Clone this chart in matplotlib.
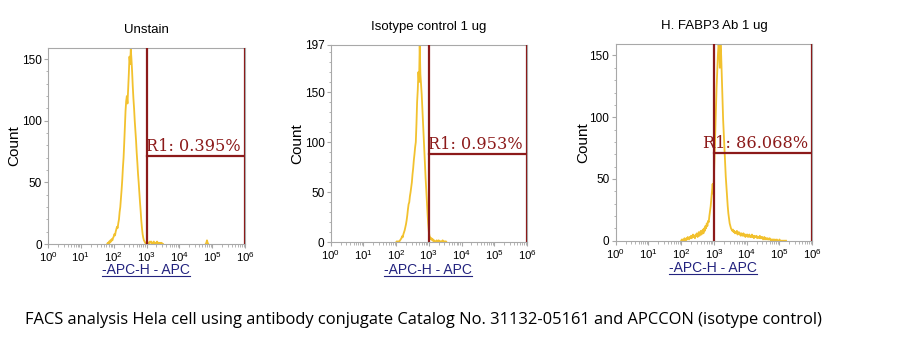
import numpy as np
import matplotlib
matplotlib.use("Agg")
import matplotlib.pyplot as plt
from matplotlib.ticker import FixedLocator, LogLocator, NullFormatter, MultipleLocator
from matplotlib.lines import Line2D

plt.rcParams.update({
    "font.family": ["Liberation Sans", "DejaVu Sans"],
    "mathtext.default": "regular",
})

# panel titles, gate labels and y limits
titles = ["Unstain", "Isotype control 1 ug", "H. FABP3 Ab 1 ug"]
gate_labels = ["R1: 0.395%", "R1: 0.953%", "R1: 86.068%"]
gate_levels = [71, 88, 71]
y_max = [159, 197, 159]
y_ticks = [[0, 50, 100, 150], [0, 50, 100, 150, 197], [0, 50, 100, 150]]
gate_lo, gate_hi = 1e3, 1e6

# histogram channels: start (log10 of APC-H), step, counts
unstain_start = 1.80
unstain_counts = [0, 1, 0, 2, 1, 3, 2, 4, 3, 5, 6, 8, 7, 10, 12, 14, 13, 17, 20, 26,
                  30, 37, 44, 52, 62, 70, 82, 95, 108, 116, 120, 114, 126, 138, 152, 146,
                  158, 150, 140, 128, 118, 110, 100, 92, 84, 74, 66, 57, 50, 42, 34, 27,
                  19, 13, 8, 5, 3, 2, 1, 0, 1, 2, 1, 0, 1, 2, 1, 2, 1, 0, 1, 2, 1, 0,
                  1, 1, 2, 0, 1, 1, 0, 1, 0, 1, 0, 0]
unstain_stray_x = [4.80, 4.82, 4.84, 4.86, 4.88]
unstain_stray = [0, 1, 3, 1, 0]

isotype_start = 2.00
isotype_counts = [0, 1, 0, 1, 0, 1, 2, 3, 4, 6, 5, 8, 10, 12, 15, 18, 22, 27, 33, 38,
                  40, 46, 50, 55, 60, 68, 74, 82, 88, 95, 100, 118, 140, 152, 170, 160,
                  197, 168, 158, 148, 134, 120, 106, 92, 78, 64, 52, 40, 28, 18, 10, 6,
                  5, 3, 4, 2, 3, 1, 2, 1, 0, 1, 2, 1, 1, 2, 0, 1, 1, 0, 1, 2, 1, 0,
                  1, 0, 1, 0]

fabp3_start = 2.00
fabp3_counts = [0, 1, 0, 1, 0, 2, 1, 0, 2, 1, 3, 2, 1, 3, 2, 4, 2, 3, 5, 3,
                4, 2, 5, 4, 6, 3, 5, 7, 4, 6, 8, 5, 7, 9, 6, 10, 8, 12, 10, 14,
                12, 16, 15, 20, 24, 28, 34, 40, 46, 38, 52, 70, 88, 106, 124, 138, 150, 159,
                156, 140, 159, 150, 132, 112, 98, 86, 74, 62, 52, 44, 36, 28, 22, 18,
                14, 12, 10, 9, 8, 9, 7, 8, 6, 7, 6, 8, 5, 6, 7, 5, 6, 4, 6, 5,
                4, 6, 4, 5, 3, 5, 4, 5, 3, 4, 5, 3, 4, 3, 5, 3, 4, 2, 4, 3,
                3, 4, 2, 3, 3, 2, 4, 2, 3, 2, 3, 1, 2, 3, 1, 2, 2, 1, 2, 1,
                1, 2, 1, 0, 1, 1, 0, 1, 0, 1, 0, 0, 1, 0, 0, 0, 1, 0, 0, 0,
                0, 0, 0, 0, 0, 0, 0]
step = 0.02

series = [(unstain_start, unstain_counts), (isotype_start, isotype_counts),
          (fabp3_start, fabp3_counts)]

# axes boxes in figure fraction [left, bottom, width, height]
boxes = [[0.0535, 0.3048, 0.2194, 0.5584],
         [0.3683, 0.3097, 0.2186, 0.5621],
         [0.6856, 0.3142, 0.2189, 0.5595]]
ylab_x = [-0.137, -0.134, -0.129]
xlab_y = [-0.155, -0.163, -0.161]

hist_color = "#F2C12E"
gate_color = "#8C1A1A"
spine_color = "#A8A8A8"
link_color = "#23237F"

fig = plt.figure(figsize=(8.98, 3.51), dpi=100)
xlabels = []
for i in range(3):
    ax = fig.add_axes(boxes[i])
    start, counts = series[i]
    logx = start + step * np.arange(len(counts))
    ax.plot(10 ** logx, counts, color=hist_color, lw=1.3, zorder=2)
    if i == 0:
        ax.plot(10 ** np.array(unstain_stray_x), unstain_stray, color=hist_color, lw=1.3)

    ax.set_xscale("log")
    ax.set_xlim(1, 1e6)
    ax.set_ylim(0, y_max[i])

    # gate R1
    ax.axvline(gate_lo, color=gate_color, lw=1.6, zorder=3)
    ax.axvline(gate_hi, color=gate_color, lw=1.6, zorder=3)
    ax.plot([gate_lo, gate_hi], [gate_levels[i]] * 2, color=gate_color, lw=1.6, zorder=3)
    ax.annotate(gate_labels[i], (gate_hi, gate_levels[i]), xytext=(-3, 1),
                textcoords="offset points", ha="right", va="bottom",
                family="DejaVu Serif", fontsize=11.6, color=gate_color, zorder=4)

    for s in ax.spines.values():
        s.set_color(spine_color)
        s.set_linewidth(0.8)

    ax.xaxis.set_major_locator(FixedLocator([10.0 ** k for k in range(7)]))
    ax.set_xticklabels([r"$10^{%d}$" % k for k in range(7)])
    ax.xaxis.set_minor_locator(LogLocator(base=10, subs=np.arange(2, 10), numticks=20))
    ax.xaxis.set_minor_formatter(NullFormatter())
    ax.yaxis.set_major_locator(FixedLocator(y_ticks[i]))
    ax.yaxis.set_minor_locator(MultipleLocator(10))
    ax.tick_params(which="major", direction="out", length=3, width=0.8,
                   color=spine_color, labelsize=8.5, pad=1.5)
    ax.tick_params(axis="x", which="major", labelsize=8.2, pad=1.5)
    ax.tick_params(which="minor", direction="out", length=1.8, width=0.6,
                   color=spine_color)

    ax.set_title(titles[i], fontsize=9.5, pad=11)
    ax.set_ylabel("Count", fontsize=11)
    ax.yaxis.set_label_coords(ylab_x[i], 0.5)
    t = ax.text(0.495, xlab_y[i], "-APC-H - APC", transform=ax.transAxes,
                ha="center", va="baseline", fontsize=10, color=link_color)
    xlabels.append(t)

fig.text(25 / 898, 1 - 320 / 351, "FACS analysis Hela cell using antibody conjugate "
         "Catalog No. 31132-05161 and APCCON (isotype control)",
         ha="left", va="center", fontsize=11.9, family="Open Sans")

# underline the axis labels
fig.canvas.draw()
renderer = fig.canvas.get_renderer()
inv = fig.transFigure.inverted()
for t in xlabels:
    bb = t.get_window_extent(renderer)
    (x0, y0), (x1, _) = inv.transform([[bb.x0, bb.y0], [bb.x1, bb.y1]])
    fig.add_artist(Line2D([x0, x1], [y0 + 0.004, y0 + 0.004], color=link_color, lw=0.8))

fig.savefig("out.png", dpi=100)
